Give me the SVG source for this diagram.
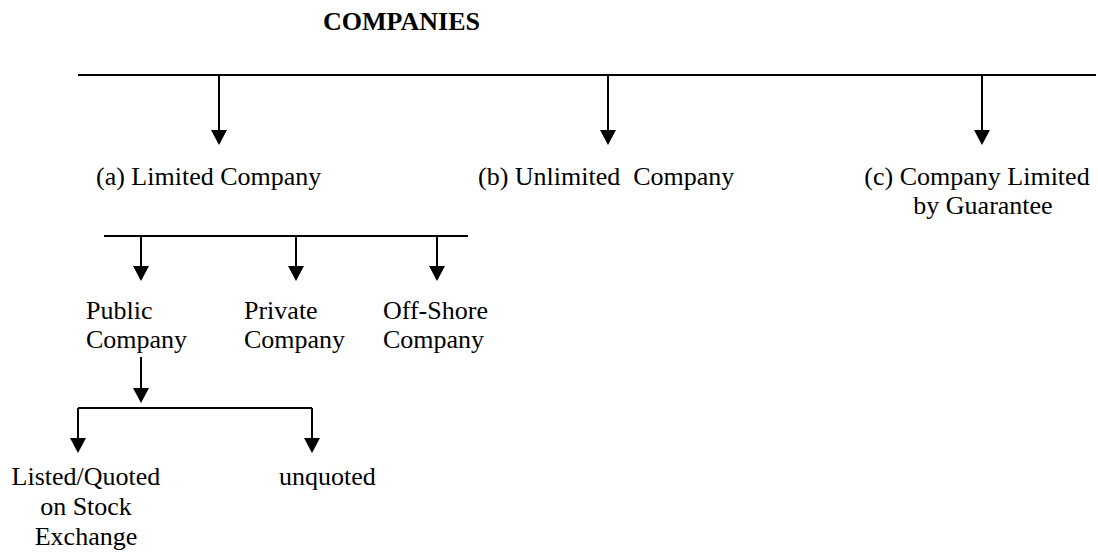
<svg xmlns="http://www.w3.org/2000/svg" width="1098" height="552" viewBox="0 0 1098 552">
<style>
text{font-family:"Liberation Serif","Times New Roman",serif;font-size:26px;fill:#000}
.title{font-weight:bold}
.ln{stroke:#000;stroke-width:2;fill:none}
.ar{stroke:#000;stroke-width:2;fill:none;marker-end:url(#ah)}
</style>
<defs>
<marker id="ah" viewBox="0 0 15 16" refX="0" refY="8" markerWidth="15" markerHeight="16" markerUnits="userSpaceOnUse" orient="auto">
<path d="M0,0 L15,8 L0,16 Z" fill="#000"/>
</marker>
</defs>
<rect width="1098" height="552" fill="#fff"/>
<g id="connectors">
<path class="ln" d="M78,75 H1096"/>
<path class="ar" d="M219,75 V130"/>
<path class="ar" d="M608,75 V130"/>
<path class="ar" d="M982,75 V130"/>
<path class="ln" d="M104,236 H468"/>
<path class="ar" d="M141,236 V266"/>
<path class="ar" d="M296,236 V266"/>
<path class="ar" d="M437,236 V266"/>
<path class="ar" d="M141,357 V388"/>
<path class="ln" d="M78,408 H312"/>
<path class="ar" d="M78,408 V438"/>
<path class="ar" d="M312,408 V438"/>
</g>
<g id="companies"><text class="title" x="323" y="30">COMPANIES</text></g>
<g id="limited"><text x="96" y="185">(a) Limited Company</text></g>
<g id="unlimited"><text x="478" y="185">(b) Unlimited&#160; Company</text></g>
<g id="guarantee"><text x="977" y="185" text-anchor="middle">(c) Company Limited</text><text x="983" y="214" text-anchor="middle">by Guarantee</text></g>
<g id="public"><text x="86" y="319">Public</text><text x="86" y="348">Company</text></g>
<g id="private"><text x="244" y="319">Private</text><text x="244" y="348">Company</text></g>
<g id="offshore"><text x="383" y="319">Off-Shore</text><text x="383" y="348">Company</text></g>
<g id="listed"><text x="86" y="485" text-anchor="middle">Listed/Quoted</text><text x="86" y="515" text-anchor="middle">on Stock</text><text x="86" y="545" text-anchor="middle">Exchange</text></g>
<g id="unquoted"><text x="279" y="485">unquoted</text></g>
</svg>
